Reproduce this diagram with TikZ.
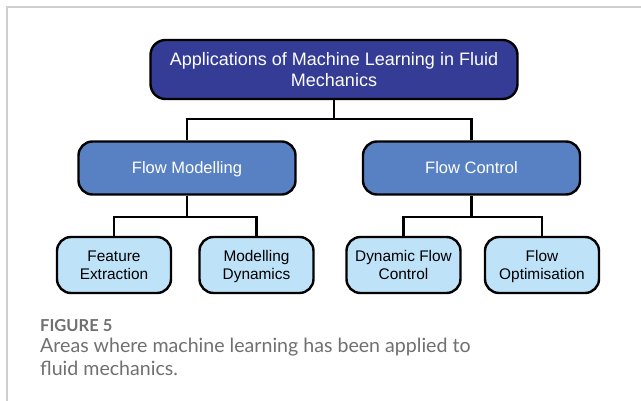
\documentclass[tikz,border=0pt]{standalone}
\usepackage{fontspec}
\setmainfont{Liberation Sans}
\newfontfamily\captionfont{Lato}
\definecolor{rootblue}{HTML}{353C95}
\definecolor{midblue}{HTML}{5881C4}
\definecolor{leafblue}{HTML}{BEE2F8}
\definecolor{framegray}{HTML}{CFCFCF}
\definecolor{capgray}{HTML}{707070}
\tikzset{
  boxbase/.style={draw=black, line width=2.4pt, align=center, inner sep=0pt},
  rootbox/.style={boxbase, fill=rootblue, text=white, rounded corners=15pt,
    minimum width=367pt, minimum height=59pt, text depth=-3pt,
    font=\fontsize{18}{21}\selectfont},
  midbox/.style={boxbase, fill=midblue, text=white, rounded corners=14pt,
    minimum width=217pt, minimum height=53pt, text depth=-3pt,
    font=\fontsize{16.5}{20}\selectfont},
  leafbox/.style={boxbase, fill=leafblue, text=black, rounded corners=14pt,
    minimum width=114pt, minimum height=56pt, text depth=-2pt,
    font=\fontsize{15.4}{18}\selectfont},
  link/.style={draw=black, line width=2.4pt},
  captext/.style={anchor=base west, inner sep=0pt, text=capgray,
    font=\captionfont\fontsize{19.6}{22.5}\selectfont}
}
\begin{document}
\begin{tikzpicture}[x=1pt, y=-1pt]
  % canvas and frame
  \useasboundingbox (0,0) rectangle (641,401);
  \fill[white] (0,0) rectangle (641,401);
  \draw[framegray, line width=1.2pt] (7,401) -- (7,7) -- (641,7);

  % boxes
  \node[rootbox] (root) at (334,69.5) {Applications of Machine Learning in Fluid\\Mechanics};
  \node[midbox] (fm) at (187,168) {Flow Modelling};
  \node[midbox] (fc) at (471.5,168) {Flow Control};
  \node[leafbox] (fe) at (114,265) {Feature\\Extraction};
  \node[leafbox] (md) at (256.5,265) {Modelling\\Dynamics};
  \node[leafbox] (dfc) at (403.5,265) {Dynamic Flow\\Control};
  \node[leafbox] (fo) at (542,265) {Flow\\Optimisation};

  % connectors
  \coordinate (rootbar) at (0,119);
  \coordinate (fmbar) at (0,217);
  \coordinate (fcbar) at (0,217);
  \draw[link] (root.south) -- (root.south |- rootbar);
  \draw[link] (fm.north) -- (fm.north |- rootbar) -| (fc.north);
  \draw[link] (fm.south) -- (fm.south |- fmbar);
  \draw[link] (fe.north) -- (fe.north |- fmbar) -| (md.north);
  \draw[link] (fc.south) -- (fc.south |- fcbar);
  \draw[link] (dfc.north) -- (dfc.north |- fcbar) -| (fo.north);

  % caption
  \node[anchor=base west, inner sep=0pt, text=capgray,
        font=\captionfont\bfseries\fontsize{16.5}{18}\selectfont] (figlabel) at (40,332) {FIGURE 5};
  \node[captext] (caption1) at (40,352.5) {Areas where machine learning has been applied to};
  \node[captext] (caption2) at (40,375.5) {fluid mechanics.};
\end{tikzpicture}
\end{document}
